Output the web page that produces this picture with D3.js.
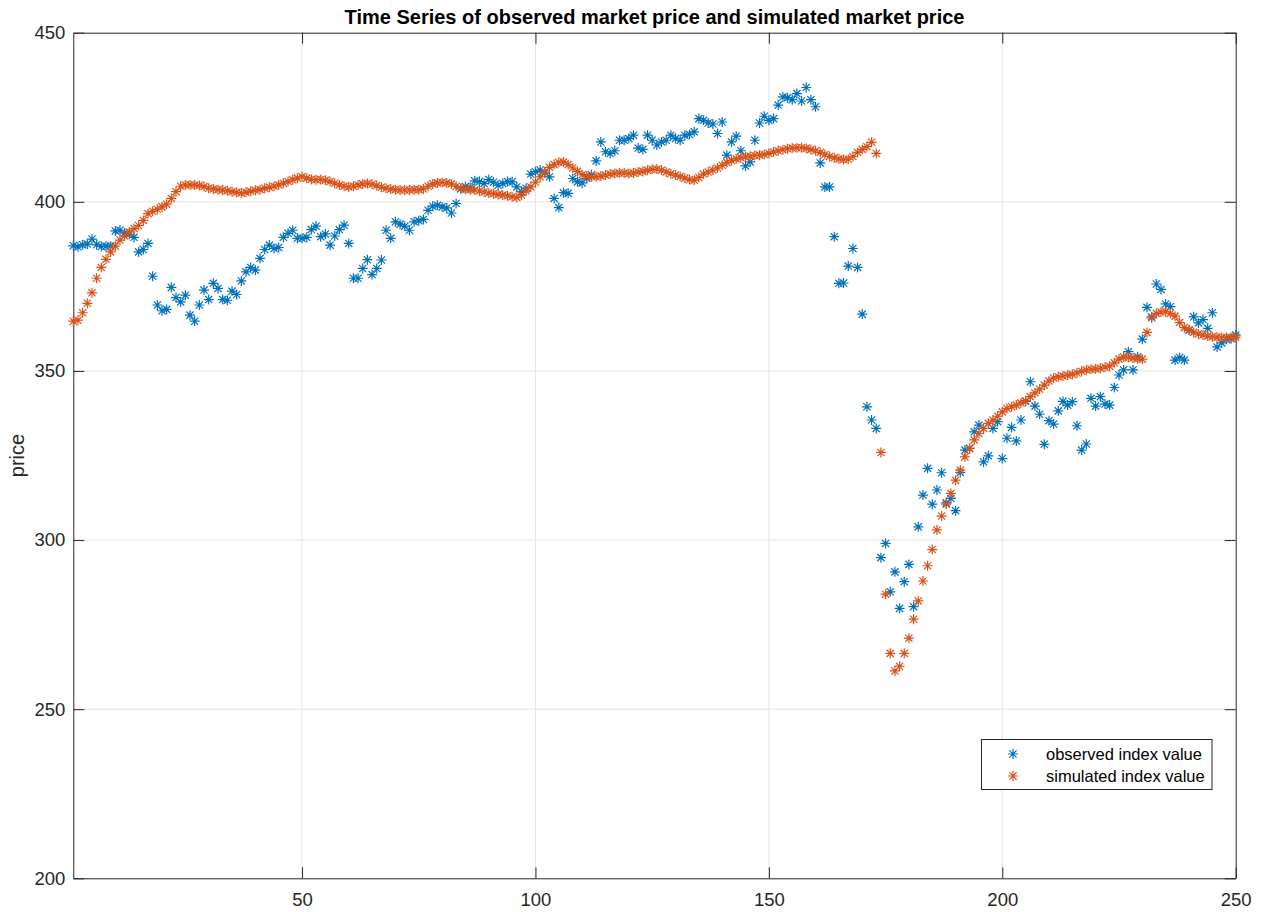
<!DOCTYPE html>
<html>
<head>
<meta charset="utf-8">
<script src="https://cdn.jsdelivr.net/npm/d3@7"></script>
<style>
  html, body { margin: 0; padding: 0; background: #fff; }
  svg { display: block; font-family: "Liberation Sans", Arial, Helvetica, sans-serif; }
</style>
</head>
<body>
<svg id="chart" width="1264" height="912"></svg>
<script>
// ---- data ----
const observed = [
  387.0, 386.7, 387.3, 387.5, 389.0, 387.3, 386.8, 386.9, 386.9, 391.4,
  391.6, 390.8, 390.4, 389.5, 385.2, 385.9, 387.7, 378.0, 369.5, 367.8,
  368.2, 374.7, 371.7, 370.4, 372.4, 366.5, 364.7, 369.5, 373.9, 371.1,
  375.9, 374.4, 371.1, 370.9, 373.6, 372.6, 376.6, 379.3, 380.6, 379.8,
  383.3, 385.9, 387.2, 386.2, 386.5, 389.5, 390.7, 391.6, 389.2, 389.2,
  389.5, 391.8, 392.8, 389.7, 390.5, 387.2, 389.9, 391.8, 393.1, 387.7,
  377.4, 377.4, 380.3, 382.9, 378.5, 380.3, 382.8, 391.6, 389.2, 394.1,
  393.4, 392.8, 391.6, 394.1, 394.4, 394.8, 397.5, 398.7, 399.0, 398.5,
  398.2, 396.7, 399.5, 403.8, 404.5, 404.2, 406.2, 406.0, 405.4, 406.6,
  405.8, 404.9, 405.4, 406.0, 405.9, 404.4, 403.0, 404.0, 408.2, 408.9,
  409.4, 408.5, 407.4, 401.0, 398.3, 402.7, 402.5, 406.9, 405.9, 405.6,
  407.0, 408.0, 412.1, 417.7, 414.8, 414.3, 415.1, 418.2, 418.2, 418.7,
  419.7, 415.9, 415.5, 419.7, 418.2, 416.8, 417.7, 418.2, 419.7, 418.7,
  418.2, 419.7, 419.9, 420.7, 424.6, 424.1, 423.3, 423.0, 420.2, 423.6,
  413.8, 417.7, 419.4, 415.1, 410.6, 411.8, 418.2, 423.3, 425.3, 424.1,
  424.6, 428.6, 431.0, 430.8, 430.2, 432.0, 429.8, 433.8, 430.2, 428.1,
  411.5, 404.4, 404.4, 389.7, 375.9, 376.0, 381.0, 386.2, 380.6, 366.8,
  339.4, 335.5, 333.0, 294.8, 299.0, 284.7, 290.6, 279.8, 287.7, 292.8,
  280.3, 303.9, 313.3, 321.2, 310.6, 314.8, 319.9, 311.0, 312.3, 308.7,
  320.0, 326.6, 327.1, 332.0, 334.0, 323.1, 324.9, 333.0, 335.0, 324.1,
  330.1, 333.3, 329.3, 335.5, 341.0, 346.8, 339.6, 337.2, 328.3, 335.3,
  334.3, 338.2, 341.0, 339.9, 340.9, 333.8, 326.6, 328.4, 341.9, 339.6,
  342.4, 340.2, 339.9, 345.1, 348.8, 350.3, 355.7, 350.3, 354.2, 359.4,
  368.8, 366.0, 375.7, 374.1, 369.8, 369.0, 353.2, 354.0, 353.2, 362.0,
  366.0, 364.2, 365.2, 362.6, 367.2, 357.1, 358.3, 359.3, 359.5, 360.6
];

const simulated = [
  364.7, 365.0, 367.2, 370.0, 373.1, 377.4, 380.6, 383.0, 385.2, 386.9,
  388.7, 389.9, 391.1, 392.1, 393.0, 394.5, 396.5, 397.2, 397.8, 398.5,
  399.3, 401.0, 403.0, 404.6, 405.0, 405.0, 405.0, 404.8, 404.5, 404.0,
  403.8, 403.6, 403.5, 403.3, 403.0, 402.8, 402.6, 402.8, 403.1, 403.4,
  403.6, 404.0, 404.3, 404.6, 405.0, 405.5, 406.0, 406.5, 407.0, 407.4,
  407.0, 406.6, 406.5, 406.6, 406.4, 406.0, 405.5, 405.0, 404.6, 404.4,
  404.6, 405.0, 405.3, 405.4, 405.2, 404.8, 404.3, 404.0, 403.8, 403.6,
  403.5, 403.5, 403.5, 403.6, 403.6, 403.8, 404.6, 405.3, 405.6, 405.7,
  405.6, 405.3, 404.6, 404.0, 403.7, 403.6, 403.5, 403.2, 402.9, 402.6,
  402.4, 402.2, 402.0, 401.8, 401.5, 401.3, 402.0, 403.3, 404.4, 405.8,
  407.4, 408.8, 410.2, 411.0, 411.7, 411.8, 411.0, 410.0, 409.0, 408.0,
  407.6, 407.4, 407.4, 407.6, 407.9, 408.2, 408.4, 408.5, 408.5, 408.4,
  408.5, 408.8, 409.0, 409.3, 409.6, 409.7, 409.4, 408.8, 408.3, 407.9,
  407.5, 407.0, 406.6, 406.4, 407.2, 408.2, 408.8, 409.4, 410.0, 410.8,
  411.6, 412.2, 412.7, 413.0, 413.3, 413.5, 413.7, 413.8, 414.0, 414.3,
  414.7, 415.1, 415.4, 415.7, 415.9, 416.0, 416.0, 415.8, 415.5, 415.1,
  414.6, 414.0, 413.4, 413.0, 412.7, 412.5, 412.6, 413.4, 414.6, 415.5,
  416.3, 417.6, 414.3, 325.9, 284.0, 266.5, 261.3, 262.7, 266.5, 271.0,
  276.6, 282.0, 287.9, 292.4, 297.2, 303.0, 307.1, 310.6, 313.8, 317.7,
  320.7, 324.6, 327.1, 329.6, 331.5, 333.0, 334.5, 335.5, 336.6, 337.9,
  338.9, 339.4, 339.9, 340.5, 341.2, 342.4, 343.5, 344.6, 345.8, 347.0,
  347.9, 348.3, 348.5, 348.7, 349.0, 349.4, 349.9, 350.3, 350.5, 350.6,
  350.8, 351.1, 351.4, 352.4, 353.5, 354.1, 354.0, 353.8, 353.6, 353.5,
  361.4, 365.7, 367.0, 367.4, 367.5, 367.0, 366.2, 364.3, 362.8, 362.2,
  361.4, 360.9, 360.6, 360.3, 360.1, 360.0, 359.9, 359.9, 359.9, 360.0
];

const xTicks = [50, 100, 150, 200, 250];
const yTicks = [200, 250, 300, 350, 400, 450];
const seriesNames = ["observed index value", "simulated index value"];
const titleText = "Time Series of observed market price and simulated market price";
const yLabelText = "price";

// ---- layout ----
const colors = ["#0072BD", "#D95319"];
const plotLeft = 73.3, plotRight = 1235.7, plotTop = 32.7, plotBottom = 878.3;
const axisColor = "#262626";
const gridColor = "#e3e3e3";
const fontStack = '"Liberation Sans", Arial, Helvetica, sans-serif';

const svg = d3.select("#chart");
const x = d3.scaleLinear().domain([1, 250]).range([plotLeft, plotRight]);
const y = d3.scaleLinear().domain([200, 450]).range([plotBottom, plotTop]);

// grid
const grid = svg.append("g");
grid.selectAll("line.gx").data(xTicks.filter(t => t < 250)).join("line")
  .attr("x1", d => x(d)).attr("x2", d => x(d))
  .attr("y1", plotTop).attr("y2", plotBottom)
  .attr("stroke", gridColor).attr("stroke-width", 1);
grid.selectAll("line.gy").data(yTicks.filter(t => t > 200 && t < 450)).join("line")
  .attr("x1", plotLeft).attr("x2", plotRight)
  .attr("y1", d => y(d)).attr("y2", d => y(d))
  .attr("stroke", gridColor).attr("stroke-width", 1);

// axes (MATLAB style: inward ticks, box)
const tickLen = 11;
const xAxisB = d3.axisBottom(x).tickValues(xTicks).tickSizeInner(-tickLen).tickSizeOuter(0).tickPadding(15);
const xAxisT = d3.axisTop(x).tickValues(xTicks).tickSizeInner(-tickLen).tickSizeOuter(0).tickFormat("");
const yAxisL = d3.axisLeft(y).tickValues(yTicks).tickSizeInner(-tickLen).tickSizeOuter(0).tickPadding(8);
const yAxisR = d3.axisRight(y).tickValues(yTicks).tickSizeInner(-tickLen).tickSizeOuter(0).tickFormat("");

function styleAxis(g) {
  g.select(".domain").attr("stroke", axisColor).attr("stroke-width", 1);
  g.selectAll(".tick line").attr("stroke", axisColor).attr("stroke-width", 1);
  g.selectAll(".tick text").attr("fill", axisColor)
    .style("font-family", fontStack).style("font-size", "18.5px");
}
svg.append("g").attr("transform", `translate(0,${plotBottom})`).call(xAxisB).call(styleAxis);
svg.append("g").attr("transform", `translate(0,${plotTop})`).call(xAxisT).call(styleAxis);
svg.append("g").attr("transform", `translate(${plotLeft},0)`).call(yAxisL).call(styleAxis);
svg.append("g").attr("transform", `translate(${plotRight},0)`).call(yAxisR).call(styleAxis);

// markers
const star = "M-5,0H5M0,-5V5M-3.6,-3.6L3.6,3.6M-3.6,3.6L3.6,-3.6";
const plotG = svg.append("g");
[observed, simulated].forEach((series, k) => {
  plotG.append("g").selectAll("path").data(series).join("path")
    .attr("d", star)
    .attr("transform", (d, i) => `translate(${x(i + 1)},${y(d)})`)
    .attr("fill", "none")
    .attr("stroke", colors[k])
    .attr("stroke-width", 1.2);
});

// title
svg.append("text")
  .attr("x", (plotLeft + plotRight) / 2).attr("y", 24)
  .attr("text-anchor", "middle")
  .attr("fill", "#000")
  .style("font-family", fontStack)
  .style("font-size", "20px").style("font-weight", "bold")
  .text(titleText);

// y label
svg.append("text")
  .attr("transform", `translate(24,${(plotTop + plotBottom) / 2}) rotate(-90)`)
  .attr("text-anchor", "middle")
  .attr("fill", axisColor)
  .style("font-family", fontStack)
  .style("font-size", "20px")
  .text(yLabelText);

// legend
const lg = svg.append("g");
lg.append("rect")
  .attr("x", 981.5).attr("y", 739.5).attr("width", 230.5).attr("height", 50)
  .attr("fill", "#fff").attr("stroke", axisColor).attr("stroke-width", 1);
seriesNames.forEach((name, k) => {
  const cy = 754 + k * 22;
  lg.append("path").attr("d", star)
    .attr("transform", `translate(1013,${cy})`)
    .attr("fill", "none").attr("stroke", colors[k]).attr("stroke-width", 1.2);
  lg.append("text").attr("x", 1046).attr("y", cy).attr("dy", "0.35em")
    .attr("fill", "#000")
    .style("font-family", fontStack)
    .style("font-size", "16.5px").text(name);
});
</script>
</body>
</html>
